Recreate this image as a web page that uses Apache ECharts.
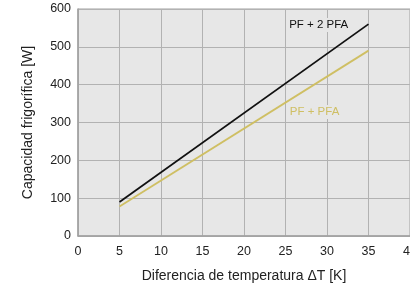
<!DOCTYPE html>
<html>
<head>
<meta charset="utf-8">
<script src="https://cdn.jsdelivr.net/npm/echarts@6/dist/echarts.min.js"></script>
<style>
  html, body { margin: 0; padding: 0; background: #fff; }
  #chart { width: 410px; height: 288px; }
</style>
</head>
<body>
<div id="chart"></div>
<script>
// values
const deltaT = [5, 35]
const pf2pfa = [90, 560]
const pfpfa = [78, 490]
const labelPf2pfa = [29, 558]
const labelPfpfa = [28.5, 328]

const font = 'Liberation Sans, Arial, sans-serif'
const yellow = '#cfbf63'
const plotBg = '#e7e7e7'

const chart = echarts.init(document.getElementById('chart'))

const axisCommon = {
  axisLine: { show: true, lineStyle: { color: '#a0a0a0', width: 1.5 } },
  axisTick: { show: false },
  splitLine: { show: true, lineStyle: { color: '#b2b2b2', width: 1 } },
  nameTextStyle: { color: '#222', fontSize: 14, fontFamily: font }
}

const tag = (text, color) => ({
  symbol: 'rect',
  symbolSize: 2,
  itemStyle: { color: 'rgba(0,0,0,0)' },
  label: {
    show: true, formatter: text, color, fontSize: 11.5, fontFamily: font, position: 'inside',
    backgroundColor: plotBg, padding: [1, 1]
  }
})

chart.setOption({
  animation: false,
  grid: {
    left: 78, top: 9, right: 0, bottom: 52,
    outerBoundsMode: 'none',
    show: true, backgroundColor: plotBg, borderColor: '#a0a0a0', borderWidth: 1
  },
  xAxis: {
    ...axisCommon,
    type: 'value',
    min: 0, max: 40, interval: 5,
    name: 'Diferencia de temperatura ΔT [K]',
    nameLocation: 'middle',
    nameGap: 33,
    axisLabel: { color: '#222', fontSize: 12.5, fontFamily: font, margin: 9 }
  },
  yAxis: {
    ...axisCommon,
    type: 'value',
    min: 0, max: 600, interval: 100,
    name: 'Capacidad frigorífica [W]',
    nameLocation: 'middle',
    nameGap: 43,
    axisLabel: { color: '#222', fontSize: 12.5, fontFamily: font, margin: 7 }
  },
  series: [
    {
      name: 'PF + 2 PFA',
      type: 'line',
      data: deltaT.map((x, i) => [x, pf2pfa[i]]),
      showSymbol: false,
      lineStyle: { color: '#111', width: 1.8 },
      markPoint: { ...tag('PF + 2 PFA', '#111'), data: [{ coord: labelPf2pfa }] }
    },
    {
      name: 'PF + PFA',
      type: 'line',
      data: deltaT.map((x, i) => [x, pfpfa[i]]),
      showSymbol: false,
      lineStyle: { color: yellow, width: 1.8 },
      markPoint: { ...tag('PF + PFA', yellow), data: [{ coord: labelPfpfa }] }
    }
  ]
})
</script>
</body>
</html>
